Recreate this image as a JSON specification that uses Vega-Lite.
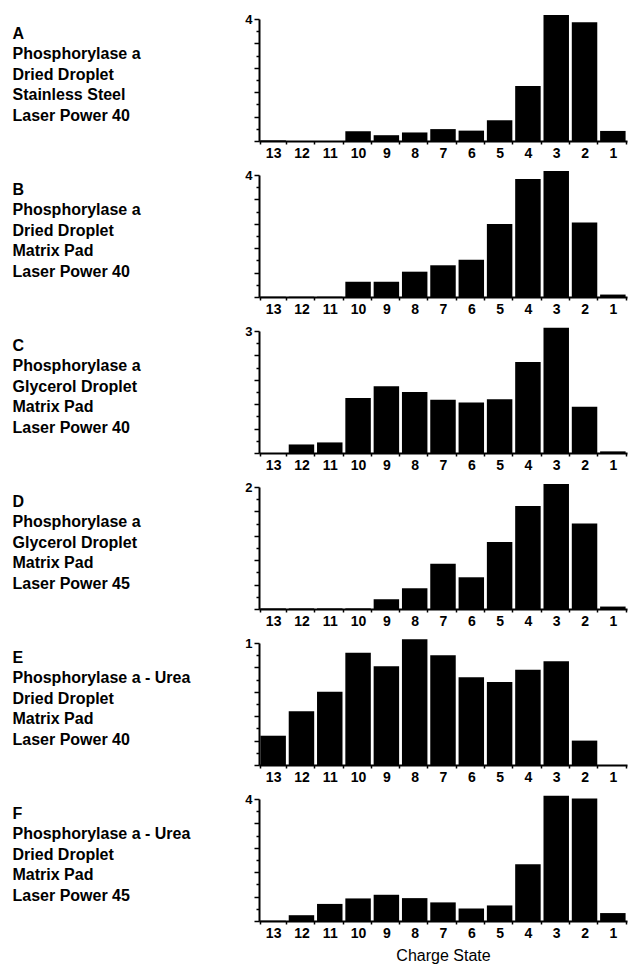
{
  "$schema": "https://vega.github.io/schema/vega-lite/v6.json",
  "background": "white",
  "padding": {"left": 12, "top": 13, "right": 1, "bottom": 2},
  "spacing": 34,
  "bounds": "flush",
  "datasets": {
    "bars": [
      {"panel": "A", "charge": 13, "value": 0.02}, {"panel": "A", "charge": 12, "value": 0}, {"panel": "A", "charge": 11, "value": 0},
      {"panel": "A", "charge": 10, "value": 0.32}, {"panel": "A", "charge": 9, "value": 0.19}, {"panel": "A", "charge": 8, "value": 0.28},
      {"panel": "A", "charge": 7, "value": 0.39}, {"panel": "A", "charge": 6, "value": 0.34}, {"panel": "A", "charge": 5, "value": 0.68},
      {"panel": "A", "charge": 4, "value": 1.8}, {"panel": "A", "charge": 3, "value": 4.13}, {"panel": "A", "charge": 2, "value": 3.89},
      {"panel": "A", "charge": 1, "value": 0.33},
      {"panel": "B", "charge": 13, "value": 0.01}, {"panel": "B", "charge": 12, "value": 0.01}, {"panel": "B", "charge": 11, "value": 0.01},
      {"panel": "B", "charge": 10, "value": 0.5}, {"panel": "B", "charge": 9, "value": 0.5}, {"panel": "B", "charge": 8, "value": 0.83},
      {"panel": "B", "charge": 7, "value": 1.04}, {"panel": "B", "charge": 6, "value": 1.22}, {"panel": "B", "charge": 5, "value": 2.39},
      {"panel": "B", "charge": 4, "value": 3.87}, {"panel": "B", "charge": 3, "value": 4.13}, {"panel": "B", "charge": 2, "value": 2.44},
      {"panel": "B", "charge": 1, "value": 0.08},
      {"panel": "C", "charge": 13, "value": 0}, {"panel": "C", "charge": 12, "value": 0.21}, {"panel": "C", "charge": 11, "value": 0.26},
      {"panel": "C", "charge": 10, "value": 1.35}, {"panel": "C", "charge": 9, "value": 1.64}, {"panel": "C", "charge": 8, "value": 1.5},
      {"panel": "C", "charge": 7, "value": 1.31}, {"panel": "C", "charge": 6, "value": 1.24}, {"panel": "C", "charge": 5, "value": 1.32},
      {"panel": "C", "charge": 4, "value": 2.24}, {"panel": "C", "charge": 3, "value": 3.08}, {"panel": "C", "charge": 2, "value": 1.14},
      {"panel": "C", "charge": 1, "value": 0.04},
      {"panel": "D", "charge": 13, "value": 0.01}, {"panel": "D", "charge": 12, "value": 0.01}, {"panel": "D", "charge": 11, "value": 0.01},
      {"panel": "D", "charge": 10, "value": 0.01}, {"panel": "D", "charge": 9, "value": 0.16}, {"panel": "D", "charge": 8, "value": 0.34},
      {"panel": "D", "charge": 7, "value": 0.74}, {"panel": "D", "charge": 6, "value": 0.52}, {"panel": "D", "charge": 5, "value": 1.1},
      {"panel": "D", "charge": 4, "value": 1.69}, {"panel": "D", "charge": 3, "value": 2.05}, {"panel": "D", "charge": 2, "value": 1.4},
      {"panel": "D", "charge": 1, "value": 0.04},
      {"panel": "E", "charge": 13, "value": 0.24}, {"panel": "E", "charge": 12, "value": 0.44}, {"panel": "E", "charge": 11, "value": 0.6},
      {"panel": "E", "charge": 10, "value": 0.92}, {"panel": "E", "charge": 9, "value": 0.81}, {"panel": "E", "charge": 8, "value": 1.03},
      {"panel": "E", "charge": 7, "value": 0.9}, {"panel": "E", "charge": 6, "value": 0.72}, {"panel": "E", "charge": 5, "value": 0.68},
      {"panel": "E", "charge": 4, "value": 0.78}, {"panel": "E", "charge": 3, "value": 0.85}, {"panel": "E", "charge": 2, "value": 0.2},
      {"panel": "E", "charge": 1, "value": 0},
      {"panel": "F", "charge": 13, "value": 0.01}, {"panel": "F", "charge": 12, "value": 0.19}, {"panel": "F", "charge": 11, "value": 0.56},
      {"panel": "F", "charge": 10, "value": 0.74}, {"panel": "F", "charge": 9, "value": 0.86}, {"panel": "F", "charge": 8, "value": 0.75},
      {"panel": "F", "charge": 7, "value": 0.61}, {"panel": "F", "charge": 6, "value": 0.41}, {"panel": "F", "charge": 5, "value": 0.51},
      {"panel": "F", "charge": 4, "value": 1.86}, {"panel": "F", "charge": 3, "value": 4.11}, {"panel": "F", "charge": 2, "value": 4.02},
      {"panel": "F", "charge": 1, "value": 0.26}
    ]
  },
  "vconcat": [
    {
      "width": 368, "height": 122,
      "data": {"name": "bars"},
      "transform": [{"filter": "datum.panel == 'A'"}],
      "mark": {"type": "bar", "color": "black", "clip": false},
      "encoding": {
        "x": {"field": "charge", "type": "ordinal", "scale": {"domain": [13,12,11,10,9,8,7,6,5,4,3,2,1], "paddingInner": 0.1, "paddingOuter": 0.05}, "axis": {"title": null}},
        "y": {"field": "value", "type": "quantitative", "scale": {"domain": [0, 4], "nice": false},
          "axis": {"values": [0,0.4,0.8,1.2,1.6,2,2.4,2.8,3.2,3.6,4], "labelExpr": "datum.value == 4 ? '4' : ''",
            "tickSize": {"condition": {"test": "abs(datum.value/0.8 - round(datum.value/0.8)) < 0.01", "value": 5}, "value": 3},
            "title": ["A", "Phosphorylase a", "Dried Droplet", "Stainless Steel", "Laser Power 40"]}}
      }
    },
    {
      "width": 368, "height": 122,
      "data": {"name": "bars"},
      "transform": [{"filter": "datum.panel == 'B'"}],
      "mark": {"type": "bar", "color": "black", "clip": false},
      "encoding": {
        "x": {"field": "charge", "type": "ordinal", "scale": {"domain": [13,12,11,10,9,8,7,6,5,4,3,2,1], "paddingInner": 0.1, "paddingOuter": 0.05}, "axis": {"title": null}},
        "y": {"field": "value", "type": "quantitative", "scale": {"domain": [0, 4], "nice": false},
          "axis": {"values": [0,0.4,0.8,1.2,1.6,2,2.4,2.8,3.2,3.6,4], "labelExpr": "datum.value == 4 ? '4' : ''",
            "tickSize": {"condition": {"test": "abs(datum.value/0.8 - round(datum.value/0.8)) < 0.01", "value": 5}, "value": 3},
            "title": ["B", "Phosphorylase a", "Dried Droplet", "Matrix Pad", "Laser Power 40"]}}
      }
    },
    {
      "width": 368, "height": 122,
      "data": {"name": "bars"},
      "transform": [{"filter": "datum.panel == 'C'"}],
      "mark": {"type": "bar", "color": "black", "clip": false},
      "encoding": {
        "x": {"field": "charge", "type": "ordinal", "scale": {"domain": [13,12,11,10,9,8,7,6,5,4,3,2,1], "paddingInner": 0.1, "paddingOuter": 0.05}, "axis": {"title": null}},
        "y": {"field": "value", "type": "quantitative", "scale": {"domain": [0, 3], "nice": false},
          "axis": {"values": [0,0.3,0.6,0.9,1.2,1.5,1.8,2.1,2.4,2.7,3], "labelExpr": "datum.value == 3 ? '3' : ''",
            "tickSize": {"condition": {"test": "abs(datum.value/0.6 - round(datum.value/0.6)) < 0.01", "value": 5}, "value": 3},
            "title": ["C", "Phosphorylase a", "Glycerol Droplet", "Matrix Pad", "Laser Power 40"]}}
      }
    },
    {
      "width": 368, "height": 122,
      "data": {"name": "bars"},
      "transform": [{"filter": "datum.panel == 'D'"}],
      "mark": {"type": "bar", "color": "black", "clip": false},
      "encoding": {
        "x": {"field": "charge", "type": "ordinal", "scale": {"domain": [13,12,11,10,9,8,7,6,5,4,3,2,1], "paddingInner": 0.1, "paddingOuter": 0.05}, "axis": {"title": null}},
        "y": {"field": "value", "type": "quantitative", "scale": {"domain": [0, 2], "nice": false},
          "axis": {"values": [0,0.2,0.4,0.6,0.8,1,1.2,1.4,1.6,1.8,2], "labelExpr": "datum.value == 2 ? '2' : ''",
            "tickSize": {"condition": {"test": "abs(datum.value/0.4 - round(datum.value/0.4)) < 0.01", "value": 5}, "value": 3},
            "title": ["D", "Phosphorylase a", "Glycerol Droplet", "Matrix Pad", "Laser Power 45"]}}
      }
    },
    {
      "width": 368, "height": 122,
      "data": {"name": "bars"},
      "transform": [{"filter": "datum.panel == 'E'"}],
      "mark": {"type": "bar", "color": "black", "clip": false},
      "encoding": {
        "x": {"field": "charge", "type": "ordinal", "scale": {"domain": [13,12,11,10,9,8,7,6,5,4,3,2,1], "paddingInner": 0.1, "paddingOuter": 0.05}, "axis": {"title": null}},
        "y": {"field": "value", "type": "quantitative", "scale": {"domain": [0, 1], "nice": false},
          "axis": {"values": [0,0.1,0.2,0.3,0.4,0.5,0.6,0.7,0.8,0.9,1], "labelExpr": "datum.value == 1 ? '1' : ''",
            "tickSize": {"condition": {"test": "abs(datum.value/0.2 - round(datum.value/0.2)) < 0.01", "value": 5}, "value": 3},
            "title": ["E", "Phosphorylase a - Urea", "Dried Droplet", "Matrix Pad", "Laser Power 40"]}}
      }
    },
    {
      "width": 368, "height": 122,
      "data": {"name": "bars"},
      "transform": [{"filter": "datum.panel == 'F'"}],
      "mark": {"type": "bar", "color": "black", "clip": false},
      "encoding": {
        "x": {"field": "charge", "type": "ordinal", "scale": {"domain": [13,12,11,10,9,8,7,6,5,4,3,2,1], "paddingInner": 0.1, "paddingOuter": 0.05}, "axis": {"title": "Charge State"}},
        "y": {"field": "value", "type": "quantitative", "scale": {"domain": [0, 4], "nice": false},
          "axis": {"values": [0,0.4,0.8,1.2,1.6,2,2.4,2.8,3.2,3.6,4], "labelExpr": "datum.value == 4 ? '4' : ''",
            "tickSize": {"condition": {"test": "abs(datum.value/0.8 - round(datum.value/0.8)) < 0.01", "value": 5}, "value": 3},
            "title": ["F", "Phosphorylase a - Urea", "Dried Droplet", "Matrix Pad", "Laser Power 45"]}}
      }
    }
  ],
  "config": {
    "view": {"stroke": null},
    "font": "Liberation Sans",
    "axis": {
      "grid": false,
      "domainColor": "black",
      "domainWidth": 2,
      "tickColor": "black",
      "tickWidth": 1.5,
      "labelColor": "black",
      "labelFont": "Liberation Sans",
      "labelFontWeight": "bold",
      "titleColor": "black",
      "titleFont": "Liberation Sans"
    },
    "axisX": {
      "tickBand": "extent",
      "tickSize": 3,
      "labelPadding": 2,
      "labelFontSize": 14,
      "labelAngle": 0,
      "titleFontSize": 16,
      "titleFontWeight": "normal",
      "titlePadding": 7
    },
    "axisY": {
      "labelFontSize": 13,
      "labelPadding": 2,
      "titleAngle": 0,
      "titleAlign": "left",
      "titleBaseline": "top",
      "titleAnchor": "start",
      "titleX": -247,
      "titleY": 6,
      "titleFontSize": 16,
      "titleFontWeight": "bold",
      "titleLineHeight": 20.5
    }
  }
}
